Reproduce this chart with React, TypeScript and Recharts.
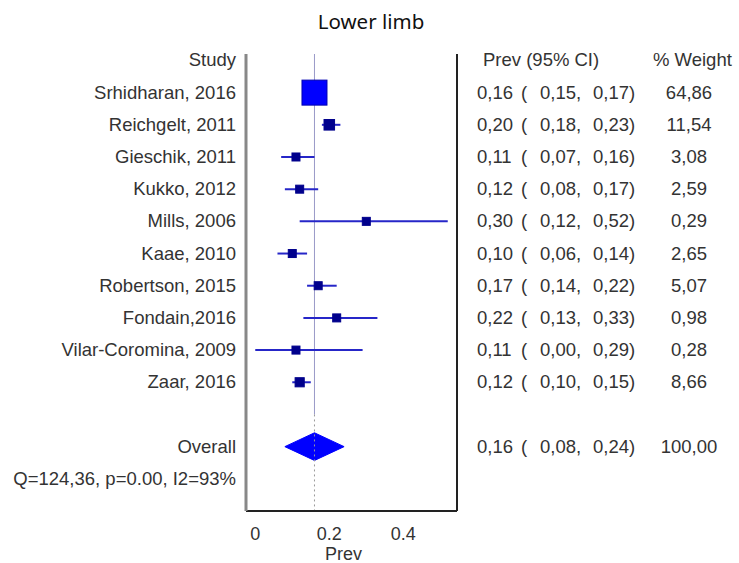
import React from "react";
import {
  ComposedChart,
  Scatter,
  Area,
  XAxis,
  YAxis,
  ReferenceLine,
} from "recharts";

// study rows (top to bottom)
const studies = [
  "Srhidharan, 2016",
  "Reichgelt, 2011",
  "Gieschik, 2011",
  "Kukko, 2012",
  "Mills, 2006",
  "Kaae, 2010",
  "Robertson, 2015",
  "Fondain,2016",
  "Vilar-Coromina, 2009",
  "Zaar, 2016",
];
const prevValues = [0.16, 0.2, 0.11, 0.12, 0.3, 0.1, 0.17, 0.22, 0.11, 0.12];
const lowerCI = [0.15, 0.18, 0.07, 0.08, 0.12, 0.06, 0.14, 0.13, 0.0, 0.1];
const upperCI = [0.17, 0.23, 0.16, 0.17, 0.52, 0.14, 0.22, 0.33, 0.29, 0.15];
const weights = [64.86, 11.54, 3.08, 2.59, 0.29, 2.65, 5.07, 0.98, 0.28, 8.66];

const overallLabel = "Overall";
const overallPrev = 0.16;
const overallLower = 0.08;
const overallUpper = 0.24;
const overallWeight = 100.0;
const heterogeneity = "Q=124,36, p=0.00, I2=93%";

const xTicks = [0, 0.2, 0.4];

const OVERALL_ROW = studies.length + 2;
const Q_ROW = OVERALL_ROW + 1;
const leftTicks = [0, ...studies.map((_, i) => i + 1), OVERALL_ROW, Q_ROW];
const statRows = [0, ...studies.map((_, i) => i + 1), OVERALL_ROW];

const studyPoints = studies.map((name, i) => ({
  name,
  x: prevValues[i],
  y: i + 1,
  w: weights[i],
}));

const DIAMOND_HALF = 0.43;
const diamond = [
  { x: overallLower, band: [OVERALL_ROW, OVERALL_ROW] },
  { x: overallPrev, band: [OVERALL_ROW - DIAMOND_HALF, OVERALL_ROW + DIAMOND_HALF] },
  { x: overallUpper, band: [OVERALL_ROW, OVERALL_ROW] },
];

const FONT = "'Liberation Sans', Arial, sans-serif";
const TEXT = "#333";

const fmt = (v: number) => v.toFixed(2).replace(".", ",");

const rowLabel = (r: number) => {
  if (r === 0) return "Study";
  if (r === OVERALL_ROW) return overallLabel;
  if (r === Q_ROW) return heterogeneity;
  return studies[r - 1] ?? "";
};

const LeftTick = ({ x, y, payload }: any) => (
  <text
    x={x}
    y={y}
    dy={6}
    textAnchor="end"
    fontSize={18.5}
    fontFamily={FONT}
    fill={TEXT}
  >
    {rowLabel(payload.value)}
  </text>
);

// text columns to the right of the plot, hung on a row reference line
const RowStats = ({ viewBox, row }: any) => {
  if (!viewBox) return null;
  const x = viewBox.x + viewBox.width;
  const y = viewBox.y;
  const common = { y, dy: 6, fontSize: 18.5, fontFamily: FONT, fill: TEXT };
  if (row === 0) {
    return (
      <g>
        <text x={x + 26} {...common}>Prev (95% CI)</text>
        <text x={x + 196} {...common}>% Weight</text>
      </g>
    );
  }
  let p: number, lo: number, hi: number, w: number;
  if (row === OVERALL_ROW) {
    p = overallPrev;
    lo = overallLower;
    hi = overallUpper;
    w = overallWeight;
  } else {
    const i = row - 1;
    p = prevValues[i];
    lo = lowerCI[i];
    hi = upperCI[i];
    w = weights[i];
  }
  return (
    <g>
      <text x={x + 20} {...common}>{fmt(p)}</text>
      <text x={x + 64} {...common}>(</text>
      <text x={x + 83} {...common}>{fmt(lo)},</text>
      <text x={x + 136} {...common}>{fmt(hi)})</text>
      <text x={x + 232} textAnchor="middle" {...common}>{fmt(w)}</text>
    </g>
  );
};

const maxWeight = Math.max(...weights);

const StudyBox = ({ cx, cy, payload }: any) => {
  const s = Math.max(8, 25 * Math.sqrt(payload.w / maxWeight));
  const big = s > 12;
  return (
    <rect
      x={cx - s / 2}
      y={cy - s / 2}
      width={s}
      height={s}
      fill={big ? "#0000ff" : "#00008c"}
      stroke={big ? "#0000b0" : "#00008c"}
      strokeWidth={1}
    />
  );
};

export default function App() {
  return (
    <div style={{ position: "absolute", left: 0, top: 0, width: 739, height: 563, background: "#fff" }}>
      <div
        style={{
          position: "absolute",
          top: 7,
          left: 0,
          width: 742,
          textAlign: "center",
          fontFamily: "'Noto Sans', sans-serif",
          fontSize: 20.5,
          color: "#111",
        }}
      >
        Lower limb
      </div>
      <ComposedChart
        width={739}
        height={563}
        margin={{ top: 54, right: 0, bottom: 3, left: 0 }}
      >
        <XAxis
          type="number"
          dataKey="x"
          domain={[-0.025, 0.545]}
          ticks={xTicks}
          allowDataOverflow
          tickFormatter={(v) => String(v)}
          tickLine={false}
          tickMargin={10}
          height={49}
          axisLine={{ stroke: "#222", strokeWidth: 2 }}
          tick={{ fill: TEXT, fontSize: 18, fontFamily: FONT }}
          label={{
            value: "Prev",
            position: "insideBottom",
            offset: 0,
            fill: TEXT,
            fontSize: 18,
            fontFamily: FONT,
            dx: -8,
          }}
        />
        <YAxis
          yAxisId="left"
          type="number"
          dataKey="y"
          domain={[-0.2, 14]}
          reversed
          ticks={leftTicks}
          interval={0}
          width={246}
          tickLine={false}
          tickSize={0}
          tickMargin={10}
          axisLine={{ stroke: "#888", strokeWidth: 3 }}
          tick={<LeftTick />}
        />
        <YAxis
          yAxisId="right"
          orientation="right"
          type="number"
          domain={[-0.2, 14]}
          width={282}
          tick={false}
          tickLine={false}
          axisLine={{ stroke: "#222", strokeWidth: 2 }}
        />
        <ReferenceLine
          yAxisId="left"
          segment={[
            { x: overallPrev, y: -0.2 },
            { x: overallPrev, y: 11 },
          ]}
          stroke="#9a9ac8"
          strokeWidth={1}
        />
        <ReferenceLine
          yAxisId="left"
          segment={[
            { x: overallPrev, y: 11 },
            { x: overallPrev, y: 14 },
          ]}
          stroke="#999"
          strokeWidth={1}
          strokeDasharray="2 3"
        />
        {statRows.map((r) => (
          <ReferenceLine
            key={"row" + r}
            yAxisId="left"
            y={r}
            stroke="none"
            label={<RowStats row={r} />}
          />
        ))}
        {studies.map((name, i) => (
          <ReferenceLine
            key={name}
            yAxisId="left"
            segment={[
              { x: lowerCI[i], y: i + 1 },
              { x: upperCI[i], y: i + 1 },
            ]}
            stroke="#2626c8"
            strokeWidth={2}
          />
        ))}
        <Area
          yAxisId="left"
          data={diamond}
          dataKey="band"
          type="linear"
          stroke="#0000ff"
          strokeWidth={1}
          fill="#0000ff"
          fillOpacity={1}
          dot={false}
          activeDot={false}
          isAnimationActive={false}
        />
        <Scatter
          yAxisId="left"
          data={studyPoints}
          shape={<StudyBox />}
          isAnimationActive={false}
        />
      </ComposedChart>
    </div>
  );
}
